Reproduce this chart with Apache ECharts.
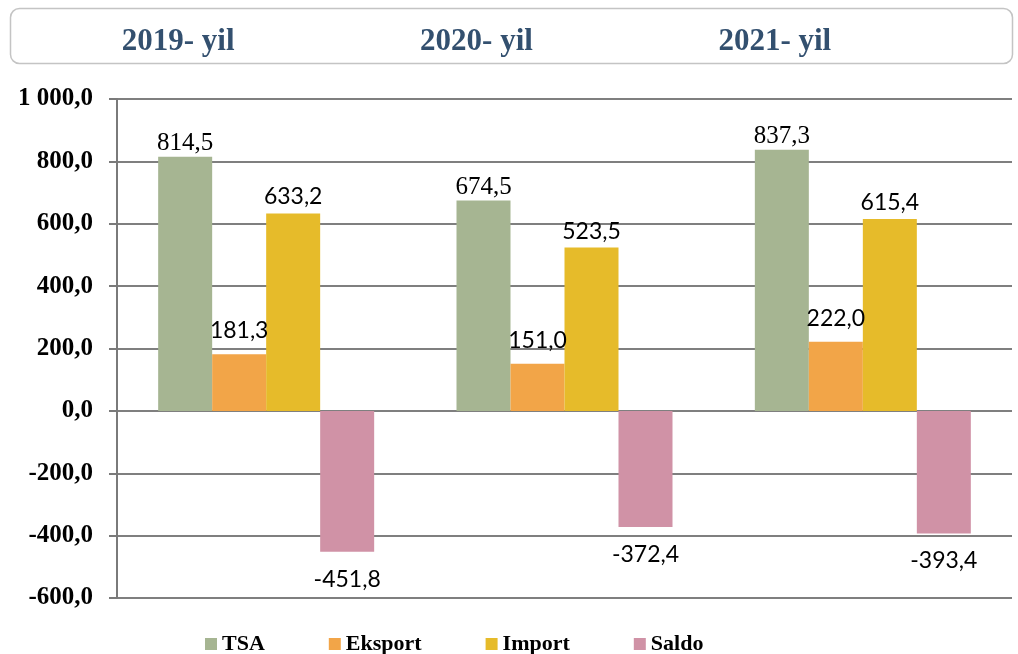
<!DOCTYPE html>
<html>
<head>
<meta charset="utf-8">
<script src="https://cdn.jsdelivr.net/npm/echarts@6/dist/echarts.min.js"></script>
<style>html,body{margin:0;padding:0;background:#fff}#c{width:1018px;height:654px}</style>
</head>
<body>
<div id="c"></div>
<script>
const categories = ['2019- yil', '2020- yil', '2021- yil'];
const seriesNames = ['TSA', 'Eksport', 'Import', 'Saldo'];
const tsa = [814.5, 674.5, 837.3];
const eksport = [181.3, 151.0, 222.0];
const importV = [633.2, 523.5, 615.4];
const saldo = [-451.8, -372.4, -393.4];
const colors = ['#a6b592', '#f2a548', '#e6bb2a', '#d092a6'];

function fmt(v) {
  const neg = v < 0;
  let s = Math.abs(v).toFixed(1).replace('.', ',');
  let [i, d] = s.split(',');
  i = i.replace(/\B(?=(\d{3})+(?!\d))/g, ' ');
  return (neg ? '-' : '') + i + ',' + d;
}

const chart = echarts.init(document.getElementById('c'), null, {renderer: 'canvas'});
const sansLabel = {fontFamily: 'Lato', fontSize: 23, color: '#000'};
const serif = 'Liberation Serif';

function mk(name, data, idx, label) {
  return {
    name: name, type: 'bar', data: data, barWidth: 54, barGap: '0%',
    itemStyle: {color: colors[idx]},
    label: Object.assign({show: true, formatter: p => fmt(p.value)}, label),
    z: 3
  };
}

chart.setOption({
  animation: false,
  color: colors,
  graphic: [{
    type: 'rect', shape: {x: 10.5, y: 8.5, width: 1002, height: 55, r: 9},
    style: {fill: '#fff', stroke: '#c4c4c4', lineWidth: 1.5}, z: -1
  }],
  grid: {left: 117, right: 6, top: 99, bottom: 56},
  legend: {
    data: seriesNames, left: 200, top: 628, itemWidth: 12, itemHeight: 12, icon: 'rect',
    itemGap: 64,
    textStyle: {fontFamily: serif, fontWeight: 'bold', fontSize: 22, color: '#000'}
  },
  xAxis: {
    type: 'category', data: categories, position: 'top',
    axisLine: {show: false}, axisTick: {show: false},
    axisLabel: {
      margin: 57, verticalAlign: 'middle', padding: [0, 176, 0, 0],
      fontFamily: serif, fontWeight: 'bold', fontSize: 31, color: '#33506f'
    }
  },
  yAxis: {
    type: 'value', min: -600, max: 1000, interval: 200,
    axisLine: {show: true, lineStyle: {color: '#7a7a7a', width: 2}},
    axisTick: {show: true, length: 8, lineStyle: {color: '#7a7a7a', width: 2}},
    splitLine: {lineStyle: {color: '#7f7f7f', width: 2}},
    axisLabel: {
      margin: 24, formatter: v => fmt(v),
      fontFamily: serif, fontWeight: 'bold', fontSize: 25, color: '#000'
    }
  },
  series: [
    mk('TSA', tsa, 0, {position: 'top', distance: 1, fontFamily: serif, fontSize: 25, color: '#000'}),
    mk('Eksport', eksport, 1, Object.assign({position: 'top', distance: 12}, sansLabel)),
    mk('Import', importV, 2, Object.assign({position: 'top', distance: 5}, sansLabel)),
    mk('Saldo', saldo, 3, Object.assign({position: 'bottom', distance: 16}, sansLabel))
  ]
});
</script>
</body>
</html>
